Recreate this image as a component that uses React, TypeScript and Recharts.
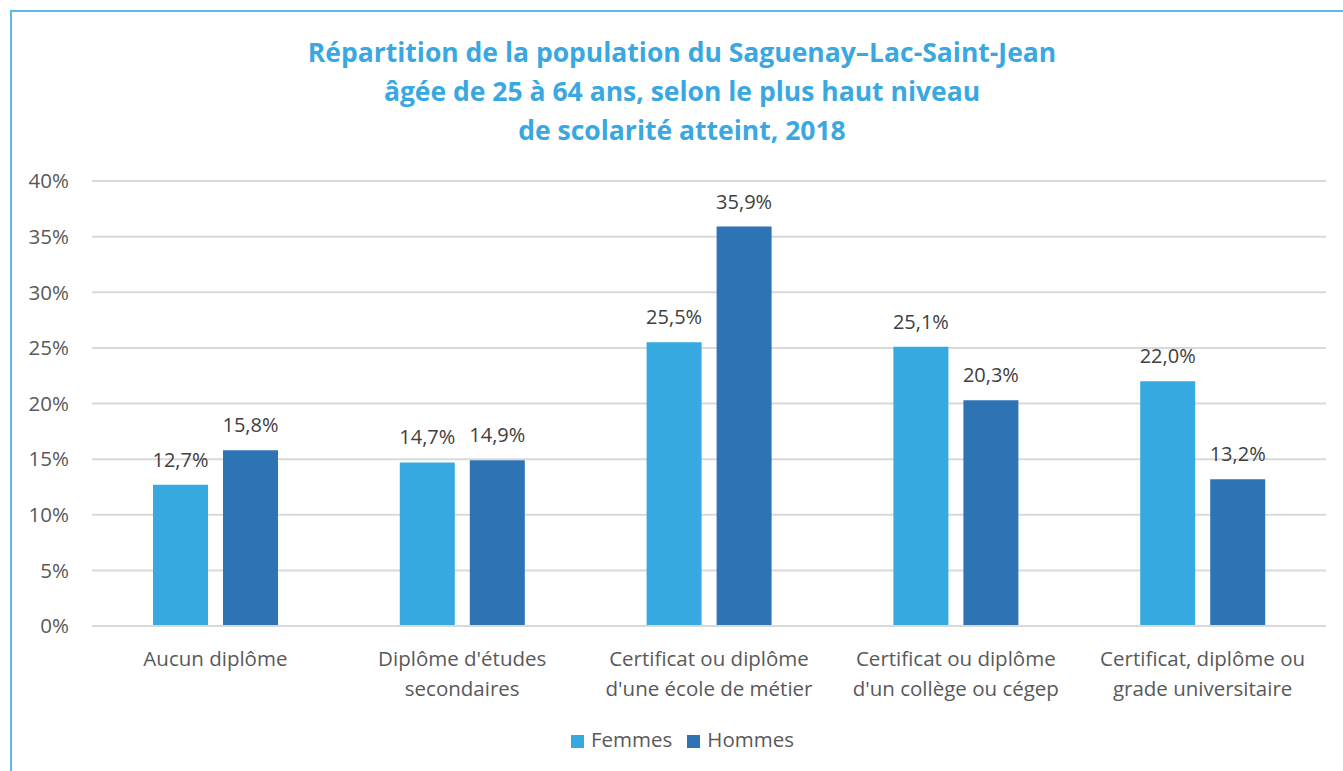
import { BarChart, Bar, XAxis, YAxis, CartesianGrid, Legend, LabelList } from 'recharts'

const categories = [
  "Aucun diplôme",
  "Diplôme d'études\nsecondaires",
  "Certificat ou diplôme\nd'une école de métier",
  "Certificat ou diplôme\nd'un collège ou cégep",
  "Certificat, diplôme ou\ngrade universitaire",
]
const femmes = [12.7, 14.7, 25.5, 25.1, 22.0]
const hommes = [15.8, 14.9, 35.9, 20.3, 13.2]
const yTicks = [0, 5, 10, 15, 20, 25, 30, 35, 40]
const titleLines = [
  'Répartition de la population du Saguenay–Lac-Saint-Jean',
  'âgée de 25 à 64 ans, selon le plus haut niveau',
  'de scolarité atteint, 2018',
]

const FONT = '"Open Sans", sans-serif'
const FEMMES_COLOR = '#36A9E1'
const HOMMES_COLOR = '#2E74B5'

const data = categories.map((c, i) => ({ cat: c, femmes: femmes[i], hommes: hommes[i] }))

const fmt = (v: number) => v.toFixed(1).replace('.', ',') + '%'

function CatTick({ x, y, payload }: any) {
  const lines = String(payload.value).split('\n')
  return (
    <text x={x} y={y} textAnchor="middle" fill="#595959" fontSize={20.5} fontFamily={FONT}>
      {lines.map((l, i) => (
        <tspan key={i} x={x} dy={i === 0 ? 32 : 30}>{l}</tspan>
      ))}
    </text>
  )
}

export default function App() {
  return (
    <div style={{ position: 'fixed', inset: 0, overflow: 'hidden', background: '#fff' }}>
      <div
        style={{
          position: 'absolute', left: 10, top: 10, width: 1400, height: 800,
          border: '2px solid #5BB8E8', boxSizing: 'border-box',
        }}
      />
      <div
        style={{
          position: 'absolute', left: 0, top: 33, width: 1364, textAlign: 'center',
          color: '#3AA8E0', fontFamily: FONT, fontWeight: 700, fontSize: 26.5, lineHeight: '39px',
        }}
      >
        {titleLines.map((t) => <div key={t}>{t}</div>)}
      </div>
      <div style={{ position: 'absolute', left: 0, top: 0 }}>
        <BarChart
          width={1343}
          height={771}
          data={data}
          margin={{ top: 181, right: 17, bottom: 0, left: 0 }}
          barCategoryGap={61}
          barGap={15}
        >
          <CartesianGrid vertical={false} stroke="#D9D9D9" strokeWidth={2} />
          <XAxis
            dataKey="cat"
            tick={<CatTick />}
            tickLine={false}
            axisLine={{ stroke: '#D9D9D9', strokeWidth: 2 }}
            height={145}
            interval={0}
          />
          <YAxis
            domain={[0, 40]}
            ticks={yTicks}
            tickFormatter={(v: number) => `${v}%`}
            tickLine={false}
            axisLine={false}
            width={92}
            tickMargin={17}
            tick={{ fill: '#595959', fontSize: 20.5, fontFamily: FONT }}
          />
          <Legend
            layout="horizontal"
            verticalAlign="middle"
            align="center"
            iconType="square"
            iconSize={13}
            wrapperStyle={{ top: 725, left: 0, width: 1380, fontFamily: FONT, fontSize: 20.5 }}
            formatter={(value: string) => (
              <span style={{ color: '#595959', marginLeft: 3, marginRight: 5 }}>{value}</span>
            )}
          />
          <Bar dataKey="femmes" name="Femmes" fill={FEMMES_COLOR} isAnimationActive={false}>
            <LabelList dataKey="femmes" position="top" offset={18} formatter={fmt as any}
              fill="#404040" fontSize={20} fontFamily={FONT} />
          </Bar>
          <Bar dataKey="hommes" name="Hommes" fill={HOMMES_COLOR} isAnimationActive={false}>
            <LabelList dataKey="hommes" position="top" offset={18} formatter={fmt as any}
              fill="#404040" fontSize={20} fontFamily={FONT} />
          </Bar>
        </BarChart>
      </div>
    </div>
  )
}
